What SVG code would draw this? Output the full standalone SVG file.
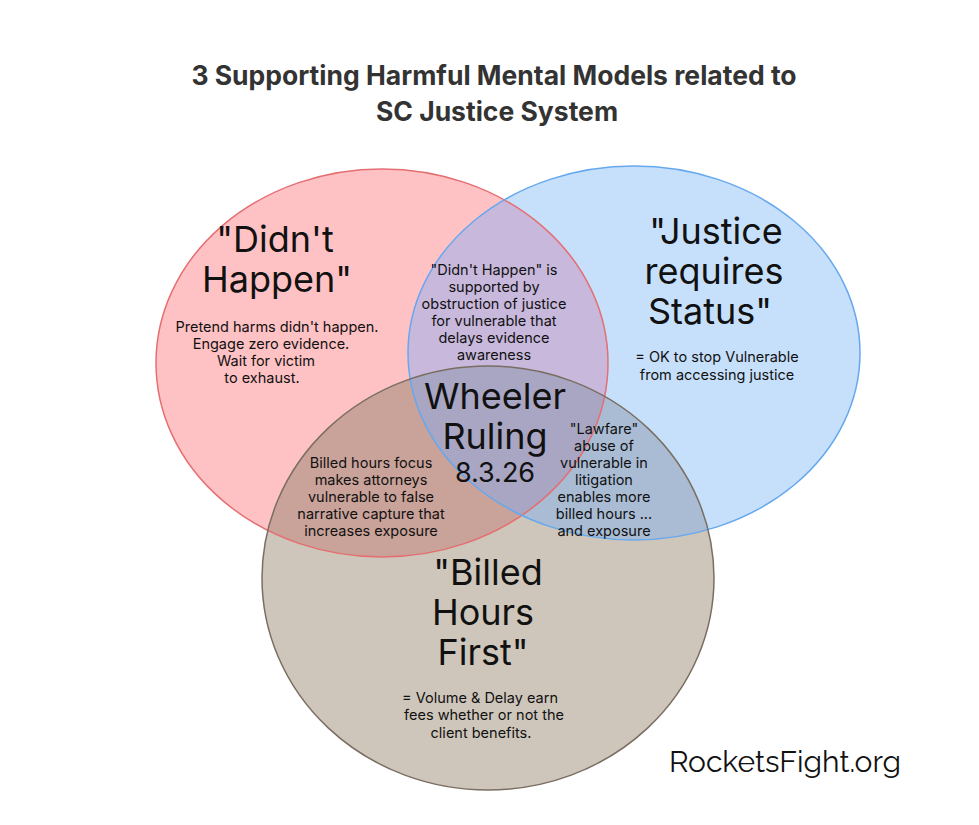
<svg xmlns="http://www.w3.org/2000/svg" width="979" height="825" viewBox="0 0 979 825">
<defs>
<style>
text{font-family:Inter,"Noto Sans",sans-serif;fill:#111;text-anchor:middle}
.t{font-size:26.5px;font-weight:bold;fill:#333}
.big{font-size:36px}
.sm{font-size:14.5px}
</style>
<clipPath id="cR"><ellipse cx="382" cy="363" rx="226" ry="194"/></clipPath>
<clipPath id="cB"><ellipse cx="634" cy="353" rx="226" ry="187"/></clipPath>
</defs>
<rect width="979" height="825" fill="#fff"/>
<text class="t" x="494" y="85">3 Supporting Harmful Mental Models related to</text>
<text class="t" x="497" y="121">SC Justice System</text>
<g id="circles">
<ellipse id="red" cx="382" cy="363" rx="226" ry="194" fill="#FFC2C4"/>
<ellipse id="blue" cx="634" cy="353" rx="226" ry="187" fill="#C6E0FB"/>
<ellipse id="brown" cx="488" cy="578" rx="226" ry="212" fill="#CEC6BA"/>
<g clip-path="url(#cR)"><ellipse cx="634" cy="353" rx="226" ry="187" fill="#C8B8DC"/></g>
<g clip-path="url(#cR)"><ellipse cx="488" cy="578" rx="226" ry="212" fill="#C9A299"/></g>
<g clip-path="url(#cB)"><ellipse cx="488" cy="578" rx="226" ry="212" fill="#A9BCD4"/></g>
<g clip-path="url(#cR)"><g clip-path="url(#cB)"><ellipse cx="488" cy="578" rx="226" ry="212" fill="#A8A6C2"/></g></g>
<ellipse cx="382" cy="363" rx="226" ry="194" fill="none" stroke="#E46F72" stroke-width="1.5"/>
<ellipse cx="634" cy="353" rx="226" ry="187" fill="none" stroke="#66A8EE" stroke-width="1.5"/>
<ellipse cx="488" cy="578" rx="226" ry="212" fill="none" stroke="#7A6E62" stroke-width="1.5"/>
</g>
<g id="didnt">
<text class="big" x="275" y="252">"Didn't</text>
<text class="big" x="277" y="292">Happen"</text>
<text class="sm" x="277" y="332">Pretend harms didn't happen.</text>
<text class="sm" x="271" y="349">Engage zero evidence.</text>
<text class="sm" x="266" y="366">Wait for victim</text>
<text class="sm" x="262" y="383">to exhaust.</text>
</g>
<g id="justice">
<text class="big" x="716" y="244">"Justice</text>
<text class="big" x="714" y="284">requires</text>
<text class="big" x="710" y="324">Status"</text>
<text class="sm" x="717" y="362">= OK to stop Vulnerable</text>
<text class="sm" x="717" y="380">from accessing justice</text>
</g>
<g id="billed">
<text class="big" x="488" y="585">"Billed</text>
<text class="big" x="483" y="625">Hours</text>
<text class="big" x="483" y="665">First"</text>
<text class="sm" x="480" y="703">= Volume &amp; Delay earn</text>
<text class="sm" x="484" y="720">fees whether or not the</text>
<text class="sm" x="481" y="738">client benefits.</text>
</g>
<g id="rb">
<text class="sm" x="494" y="275">"Didn't Happen" is</text>
<text class="sm" x="494" y="292">supported by</text>
<text class="sm" x="494" y="309">obstruction of justice</text>
<text class="sm" x="494" y="326">for vulnerable that</text>
<text class="sm" x="494" y="343">delays evidence</text>
<text class="sm" x="494" y="360">awareness</text>
</g>
<g id="center">
<text class="big" x="495" y="409">Wheeler</text>
<text class="big" x="495" y="449">Ruling</text>
<text x="495" y="482" style="font-size:27px">8.3.26</text>
</g>
<g id="rbr">
<text class="sm" x="371" y="468">Billed hours focus</text>
<text class="sm" x="371" y="485">makes attorneys</text>
<text class="sm" x="371" y="502">vulnerable to false</text>
<text class="sm" x="371" y="519">narrative capture that</text>
<text class="sm" x="371" y="536">increases exposure</text>
</g>
<g id="bbr">
<text class="sm" x="604" y="434">"Lawfare"</text>
<text class="sm" x="604" y="451">abuse of</text>
<text class="sm" x="604" y="468">vulnerable in</text>
<text class="sm" x="604" y="485">litigation</text>
<text class="sm" x="604" y="502">enables more</text>
<text class="sm" x="604" y="519">billed hours ...</text>
<text class="sm" x="604" y="536">and exposure</text>
</g>
<text x="785" y="772" style="font-size:30px;font-family:Raleway,Inter,sans-serif">RocketsFight.org</text>
</svg>
